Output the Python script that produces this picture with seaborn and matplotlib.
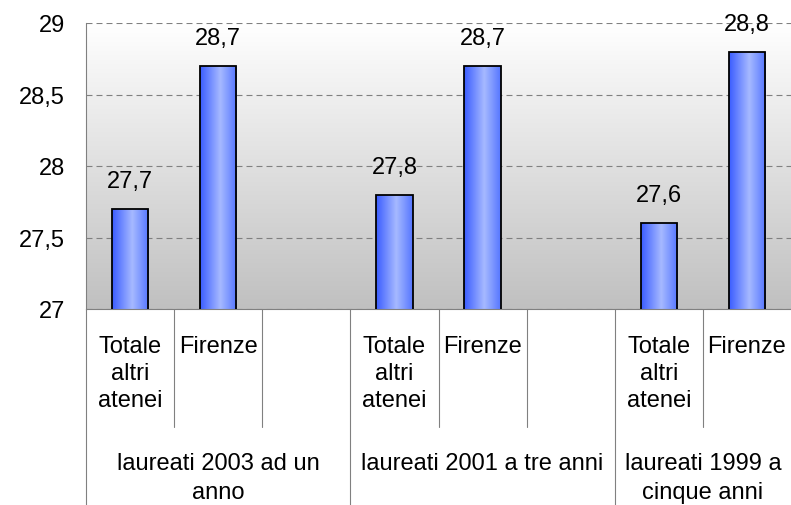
import numpy as np
import pandas as pd
import matplotlib
matplotlib.use("Agg")
import matplotlib.pyplot as plt
import matplotlib.transforms as mtransforms
from matplotlib.colors import LinearSegmentedColormap
from matplotlib.ticker import FuncFormatter
import seaborn as sns

# Data
groups = ["laureati 2003 ad un\nanno", "laureati 2001 a tre anni", "laureati 1999 a\ncinque anni"]
series = ["Totale\naltri\natenei", "Firenze"]
totale_altri = [27.7, 27.8, 27.6]
firenze = [28.7, 28.7, 28.8]
group_slots = [3, 3, 2]  # category slots per group, extra slots are empty
y_ticks = [27, 27.5, 28, 28.5, 29]

# Build slot table
rows = []
order = []
slot_labels = []
for g, name in enumerate(groups):
    vals = [totale_altri[g], firenze[g]]
    for k in range(group_slots[g]):
        key = f"{g}_{k}"
        order.append(key)
        if k < len(series):
            rows.append({"slot": key, "value": vals[k]})
            slot_labels.append(series[k])
        else:
            slot_labels.append("")
df = pd.DataFrame(rows)

sns.set_style("white")
plt.rcParams["font.family"] = ["Liberation Sans", "DejaVu Sans"]
plt.rcParams["text.color"] = "black"
plt.rcParams["ytick.labelcolor"] = "black"
plt.rcParams["lines.scale_dashes"] = False
FS = 17
GRAY = "#808080"

fig = plt.figure(figsize=(7.91, 5.06), dpi=100)
ax = fig.add_axes([86 / 791, 196 / 506, 705 / 791, 286 / 506])

sns.barplot(data=df, x="slot", y="value", order=order, width=0.41,
            color="#6f8cff", edgecolor="black", linewidth=1.3, ax=ax)

ax.set_xlim(-0.5, len(order) - 0.5)
ax.set_ylim(27, 29)

# background gradient
bg = LinearSegmentedColormap.from_list("bg", ["#c0c0c0", "#ffffff"])
ax.imshow(np.linspace(0, 1, 256).reshape(-1, 1), cmap=bg, origin="lower",
          extent=[0, 1, 0, 1], transform=ax.transAxes, aspect="auto", zorder=0)

# bar gradients
bar_cmap = LinearSegmentedColormap.from_list(
    "bar", [(0, "#3a5cff"), (0.55, "#a6b9ff"), (1, "#5576ff")])
grad = np.linspace(0, 1, 256).reshape(1, -1)
for bar in ax.patches:
    x0 = bar.get_x()
    w = bar.get_width()
    top = bar.get_y() + bar.get_height()
    im = ax.imshow(grad, cmap=bar_cmap, extent=[x0, x0 + w, 27, top],
                   aspect="auto", zorder=2.5)
    im.set_clip_path(bar)
    bar.set_facecolor("none")
    bar.set_zorder(3)
    ax.annotate(f"{top:.1f}".replace(".", ","), (x0 + w / 2, top),
                xytext=(0, 20), textcoords="offset points",
                ha="center", va="center", fontsize=FS, zorder=4)

ax.set_xlim(-0.5, len(order) - 0.5)
ax.set_ylim(27, 29)

# y axis
ax.set_yticks(y_ticks)
ax.yaxis.set_major_formatter(FuncFormatter(lambda v, p: f"{v:g}".replace(".", ",")))
ax.tick_params(axis="y", length=6.5, width=0.8, color=GRAY, pad=8.5,
               labelsize=FS, labelcolor="black")
ax.tick_params(axis="x", length=0, labelbottom=False)
ax.set_xlabel("")
ax.set_ylabel("")
ax.yaxis.grid(True, color=GRAY, linewidth=0.8, linestyle=(0, (4.3, 2.9)))
ax.set_axisbelow(True)

for side in ["top", "right"]:
    ax.spines[side].set_visible(False)
for side in ["left", "bottom"]:
    ax.spines[side].set_color(GRAY)
    ax.spines[side].set_linewidth(0.8)

# multi-level category axis
trans = mtransforms.blended_transform_factory(ax.transData, ax.transAxes)
for i, lab in enumerate(slot_labels):
    if lab:
        ax.text(i, -0.09, lab, transform=trans, ha="center", va="top",
                fontsize=FS, linespacing=1.3, clip_on=False)

starts = np.cumsum([0] + group_slots[:-1])
for g, name in enumerate(groups):
    s = starts[g]
    e = s + group_slots[g]
    ax.plot([s - 0.5, s - 0.5], [0, -0.69], transform=trans, color=GRAY,
            linewidth=0.8, clip_on=False)
    for k in range(1, group_slots[g]):
        ax.plot([s + k - 0.5] * 2, [0, -0.413], transform=trans, color=GRAY,
                linewidth=0.8, clip_on=False)
    ax.text((s + e - 1) / 2, -0.5, name, transform=trans, ha="center",
            va="top", fontsize=FS, linespacing=1.4, clip_on=False)

fig.savefig("out.png", dpi=100)
